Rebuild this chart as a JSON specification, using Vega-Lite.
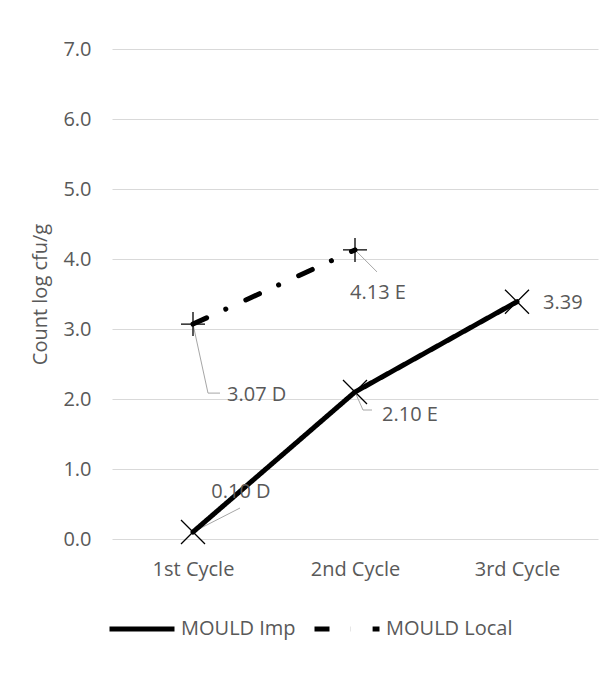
{
  "$schema": "https://vega.github.io/schema/vega-lite/v6.json",
  "width": 486,
  "height": 490,
  "autosize": {"type": "none"},
  "padding": {"left": 112, "top": 49, "right": 12, "bottom": 153},
  "background": "white",
  "config": {
    "view": {"stroke": null},
    "font": "Open Sans",
    "text": {"font": "Open Sans"}
  },
  "data": {
    "values": [
      {"cycle": "1st Cycle", "series": "MOULD Imp", "value": 0.10, "label": "0.10 D"},
      {"cycle": "2nd Cycle", "series": "MOULD Imp", "value": 2.10, "label": "2.10 E"},
      {"cycle": "3rd Cycle", "series": "MOULD Imp", "value": 3.39, "label": "3.39"},
      {"cycle": "1st Cycle", "series": "MOULD Local", "value": 3.07, "label": "3.07 D"},
      {"cycle": "2nd Cycle", "series": "MOULD Local", "value": 4.13, "label": "4.13 E"}
    ]
  },
  "encoding": {
    "x": {
      "field": "cycle",
      "type": "nominal",
      "sort": ["1st Cycle", "2nd Cycle", "3rd Cycle"],
      "scale": {"type": "point", "padding": 0.5},
      "axis": {
        "title": null,
        "domain": false,
        "ticks": false,
        "grid": false,
        "labelAngle": 0,
        "labelPadding": 20,
        "labelFontSize": 20,
        "labelColor": "#595959",
        "labelFont": "Open Sans"
      }
    },
    "y": {
      "field": "value",
      "type": "quantitative",
      "scale": {"domain": [0, 7], "nice": false},
      "axis": {
        "title": "Count log cfu/g",
        "values": [0, 1, 2, 3, 4, 5, 6, 7],
        "format": ".1f",
        "domain": false,
        "ticks": false,
        "grid": true,
        "gridColor": "#d9d9d9",
        "gridWidth": 1,
        "labelPadding": 21,
        "labelFontSize": 20,
        "labelColor": "#595959",
        "labelFont": "Open Sans",
        "titleFont": "Open Sans",
        "titleFontSize": 20,
        "titleFontWeight": "normal",
        "titleColor": "#595959",
        "titlePadding": 12
      }
    }
  },
  "layer": [
    {
      "transform": [{"filter": "datum.label === '0.10 D'"}],
      "mark": {"type": "rule", "color": "#a6a6a6", "strokeWidth": 1, "xOffset": 4, "yOffset": -2, "x2Offset": 47, "y2Offset": -24},
      "encoding": {"x2": {"field": "cycle"}, "y2": {"field": "value"}}
    },
    {
      "transform": [{"filter": "datum.label === '2.10 E'"}],
      "mark": {"type": "rule", "color": "#a6a6a6", "strokeWidth": 1, "xOffset": 0, "yOffset": 0, "x2Offset": 8, "y2Offset": 18},
      "encoding": {"x2": {"field": "cycle"}, "y2": {"field": "value"}}
    },
    {
      "transform": [{"filter": "datum.label === '2.10 E'"}],
      "mark": {"type": "rule", "color": "#a6a6a6", "strokeWidth": 1, "xOffset": 8, "yOffset": 18, "x2Offset": 17, "y2Offset": 18},
      "encoding": {"x2": {"field": "cycle"}, "y2": {"field": "value"}}
    },
    {
      "transform": [{"filter": "datum.label === '3.07 D'"}],
      "mark": {"type": "rule", "color": "#a6a6a6", "strokeWidth": 1, "xOffset": 0, "yOffset": 0, "x2Offset": 15, "y2Offset": 69},
      "encoding": {"x2": {"field": "cycle"}, "y2": {"field": "value"}}
    },
    {
      "transform": [{"filter": "datum.label === '3.07 D'"}],
      "mark": {"type": "rule", "color": "#a6a6a6", "strokeWidth": 1, "xOffset": 15, "yOffset": 69, "x2Offset": 27, "y2Offset": 69},
      "encoding": {"x2": {"field": "cycle"}, "y2": {"field": "value"}}
    },
    {
      "transform": [{"filter": "datum.label === '4.13 E'"}],
      "mark": {"type": "rule", "color": "#a6a6a6", "strokeWidth": 1, "xOffset": 0, "yOffset": 0, "x2Offset": 22, "y2Offset": 22},
      "encoding": {"x2": {"field": "cycle"}, "y2": {"field": "value"}}
    },
    {
      "mark": {"type": "line", "color": "black", "strokeWidth": 5, "strokeCap": "round", "strokeJoin": "round"},
      "encoding": {
        "detail": {"field": "series"},
        "strokeDash": {
          "field": "series",
          "type": "nominal",
          "scale": {"domain": ["MOULD Imp", "MOULD Local"], "range": [[1, 0], [15, 21, 0.1, 22]]},
          "legend": {
            "title": null,
            "orient": "none",
            "legendX": -5,
            "legendY": 545,
            "direction": "horizontal",
            "padding": 0,
            "symbolType": "stroke",
            "symbolSize": 4225,
            "symbolStrokeWidth": 5,
            "symbolStrokeColor": "black",
            "labelFontSize": 20,
            "labelFont": "Open Sans",
            "labelColor": "#595959",
            "labelOffset": 4,
            "labelLimit": 300,
            "columnPadding": 8
          }
        }
      }
    },
    {
      "transform": [{"filter": "datum.series === 'MOULD Imp'"}],
      "mark": {"type": "point", "filled": false, "stroke": "black", "strokeWidth": 1.3, "opacity": 1, "size": 576, "shape": "M-1,-1L1,1M-1,1L1,-1"}
    },
    {
      "transform": [{"filter": "datum.series === 'MOULD Local'"}],
      "mark": {"type": "point", "filled": false, "stroke": "black", "strokeWidth": 1.3, "opacity": 1, "size": 576, "shape": "M-1,0L1,0M0,-1L0,1"}
    },
    {
      "transform": [{"filter": "datum.label === '0.10 D'"}],
      "mark": {"type": "text", "align": "center", "baseline": "middle", "dx": 48, "dy": -40, "fontSize": 20, "color": "#595959"},
      "encoding": {"text": {"field": "label"}}
    },
    {
      "transform": [{"filter": "datum.label === '2.10 E'"}],
      "mark": {"type": "text", "align": "left", "baseline": "middle", "dx": 27, "dy": 23, "fontSize": 20, "color": "#595959"},
      "encoding": {"text": {"field": "label"}}
    },
    {
      "transform": [{"filter": "datum.label === '3.07 D'"}],
      "mark": {"type": "text", "align": "left", "baseline": "middle", "dx": 34, "dy": 71, "fontSize": 20, "color": "#595959"},
      "encoding": {"text": {"field": "label"}}
    },
    {
      "transform": [{"filter": "datum.label === '4.13 E'"}],
      "mark": {"type": "text", "align": "center", "baseline": "middle", "dx": 23, "dy": 43, "fontSize": 20, "color": "#595959"},
      "encoding": {"text": {"field": "label"}}
    },
    {
      "transform": [{"filter": "datum.label === '3.39'"}],
      "mark": {"type": "text", "align": "left", "baseline": "middle", "dx": 26, "dy": 1, "fontSize": 20, "color": "#595959"},
      "encoding": {"text": {"field": "label"}}
    }
  ]
}
